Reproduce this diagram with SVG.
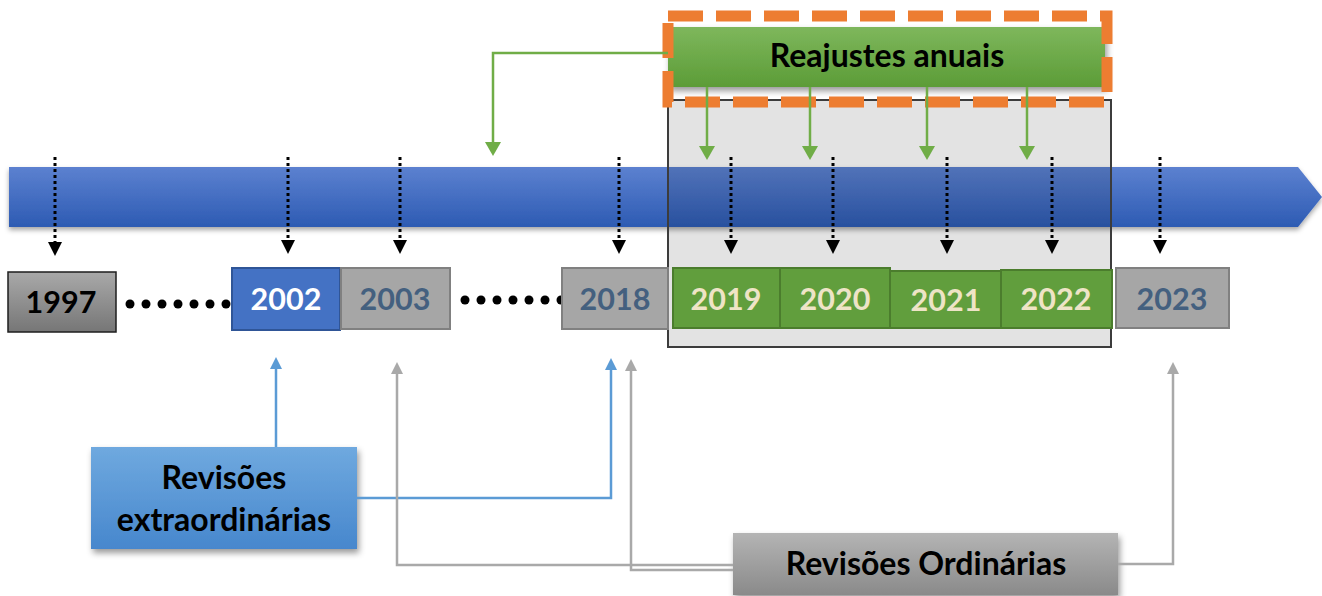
<svg xmlns="http://www.w3.org/2000/svg" width="1322" height="596" viewBox="0 0 1322 596">
  <defs>
    <style>
      text { font-family: Lato, "Liberation Sans", sans-serif; text-anchor: middle; }
      .year { font-size: 30.5px; font-weight: bold; }
      .label { font-size: 32px; font-weight: bold; fill: #000; }
      .dotted { stroke: #000; stroke-width: 3; stroke-dasharray: 3 3; fill: none; marker-end: url(#blackHead); }
      .greenLine { stroke: #70AD47; stroke-width: 2.5; fill: none; marker-end: url(#greenHead); }
      .blueLine { stroke: #5B9BD5; stroke-width: 2.5; fill: none; marker-end: url(#blueHead); }
      .grayLine { stroke: #A9A9A9; stroke-width: 2.5; fill: none; marker-end: url(#grayHead); }
      .grayYear { fill: #A6A6A6; stroke: #808080; stroke-width: 2; }
      .grayYearText { fill: #44607F; }
      .greenYear { fill: #619E3D; stroke: #4B7D2D; stroke-width: 2; }
      .greenYearText { fill: #EEE4C6; }
      .dots { fill: #000; }
    </style>
    <linearGradient id="barGrad" x1="0" y1="0" x2="0" y2="1">
      <stop offset="0" stop-color="#5C81D0"/>
      <stop offset="1" stop-color="#2D5BB3"/>
    </linearGradient>
    <linearGradient id="greenGrad" x1="0" y1="0" x2="0" y2="1">
      <stop offset="0" stop-color="#7EB75C"/>
      <stop offset="1" stop-color="#5C9C37"/>
    </linearGradient>
    <linearGradient id="extraGrad" x1="0" y1="0" x2="0" y2="1">
      <stop offset="0" stop-color="#6FA9DF"/>
      <stop offset="1" stop-color="#4787CD"/>
    </linearGradient>
    <linearGradient id="ordGrad" x1="0" y1="0" x2="0" y2="1">
      <stop offset="0" stop-color="#B4B4B4"/>
      <stop offset="1" stop-color="#8A8A8A"/>
    </linearGradient>
    <linearGradient id="darkGrayGrad" x1="0" y1="0" x2="0" y2="1">
      <stop offset="0" stop-color="#A9A9A9"/>
      <stop offset="1" stop-color="#767676"/>
    </linearGradient>
    <filter id="shadow" x="-10%" y="-20%" width="120%" height="150%">
      <feDropShadow dx="2" dy="4" stdDeviation="3" flood-color="#000" flood-opacity="0.4"/>
    </filter>
    <filter id="softShadow" x="-5%" y="-20%" width="110%" height="160%">
      <feDropShadow dx="0" dy="3" stdDeviation="2.5" flood-color="#000" flood-opacity="0.35"/>
    </filter>
    <marker id="blackHead" viewBox="0 0 14 14" refX="0" refY="7" markerWidth="14" markerHeight="14" markerUnits="userSpaceOnUse" orient="auto">
      <path d="M0,0 L14,7 L0,14 z" fill="#000"/>
    </marker>
    <marker id="greenHead" viewBox="0 0 14 16" refX="0" refY="8" markerWidth="14" markerHeight="16" markerUnits="userSpaceOnUse" orient="auto">
      <path d="M0,0 L14,8 L0,16 z" fill="#70AD47"/>
    </marker>
    <marker id="blueHead" viewBox="0 0 12 12" refX="0" refY="6" markerWidth="12" markerHeight="12" markerUnits="userSpaceOnUse" orient="auto">
      <path d="M0,0 L12,6 L0,12 z" fill="#5B9BD5"/>
    </marker>
    <marker id="grayHead" viewBox="0 0 12 12" refX="0" refY="6" markerWidth="12" markerHeight="12" markerUnits="userSpaceOnUse" orient="auto">
      <path d="M0,0 L12,6 L0,12 z" fill="#A9A9A9"/>
    </marker>
  </defs>

  <rect width="1322" height="596" fill="#fff"/>

  <!-- timeline bar -->
  <g id="timeline">
    <polygon points="9,167 1298,167 1322,197 1298,227 9,227" fill="url(#barGrad)" filter="url(#softShadow)"/>
  </g>

  <!-- highlighted period frame -->
  <g id="period-frame">
    <rect x="668" y="100" width="443" height="247" fill="#000" fill-opacity="0.11" stroke="#3C3C3C" stroke-width="2"/>
  </g>

  <!-- year boxes -->
  <g id="y1997">
    <rect x="8" y="272" width="108" height="60" fill="url(#darkGrayGrad)" stroke="#1E1E1E" stroke-width="1.5"/>
    <text class="year" x="61" y="313" fill="#000">1997</text>
  </g>
  <g id="dots-a" class="dots">
    <circle cx="130" cy="304" r="4.5"/><circle cx="146" cy="304" r="4.5"/><circle cx="162" cy="304" r="4.5"/>
    <circle cx="178" cy="304" r="4.5"/><circle cx="194" cy="304" r="4.5"/><circle cx="210" cy="304" r="4.5"/>
    <circle cx="226" cy="304" r="4.5"/>
  </g>
  <g id="y2002">
    <rect x="232" y="268" width="108" height="62" fill="#4472C4" stroke="#2F5597" stroke-width="2"/>
    <text class="year" x="286" y="310" fill="#fff">2002</text>
  </g>
  <g id="y2003">
    <rect class="grayYear" x="341" y="268" width="109" height="61"/>
    <text class="year grayYearText" x="395" y="310">2003</text>
  </g>
  <g id="dots-b" class="dots">
    <circle cx="465" cy="300" r="4.5"/><circle cx="481" cy="300" r="4.5"/><circle cx="497" cy="300" r="4.5"/>
    <circle cx="513" cy="300" r="4.5"/><circle cx="529" cy="300" r="4.5"/><circle cx="545" cy="300" r="4.5"/>
    <circle cx="561" cy="300" r="4.5"/>
  </g>
  <g id="y2018">
    <rect class="grayYear" x="562" y="268" width="106" height="61"/>
    <text class="year grayYearText" x="615" y="310">2018</text>
  </g>
  <g id="y2019">
    <rect class="greenYear" x="673" y="268" width="107" height="60"/>
    <text class="year greenYearText" x="726" y="310">2019</text>
  </g>
  <g id="y2020">
    <rect class="greenYear" x="780" y="268" width="110" height="60"/>
    <text class="year greenYearText" x="835" y="310">2020</text>
  </g>
  <g id="y2021">
    <rect class="greenYear" x="890" y="271" width="111" height="57"/>
    <text class="year greenYearText" x="946" y="311">2021</text>
  </g>
  <g id="y2022">
    <rect class="greenYear" x="1001" y="270" width="111" height="58"/>
    <text class="year greenYearText" x="1056" y="310">2022</text>
  </g>
  <g id="y2023">
    <rect class="grayYear" x="1116" y="268" width="113" height="60"/>
    <text class="year grayYearText" x="1172" y="310" font-weight="normal">2023</text>
  </g>

  <!-- annual adjustments label -->
  <g id="reajustes">
    <rect x="668" y="27" width="437" height="60" fill="url(#greenGrad)" filter="url(#shadow)"/>
    <text class="label" x="887" y="67">Reajustes anuais</text>
    <rect x="668" y="16" width="439" height="86" fill="none" stroke="#ED7D31" stroke-width="11" stroke-dasharray="35 13"/>
  </g>

  <!-- extraordinary reviews label -->
  <g id="extraordinarias">
    <rect x="91" y="447" width="266" height="102" fill="url(#extraGrad)" filter="url(#shadow)"/>
    <text class="label" x="224" y="489">Revisões</text>
    <text class="label" x="224" y="531">extraordinárias</text>
  </g>

  <!-- ordinary reviews label -->
  <g id="ordinarias">
    <rect x="733" y="533" width="385" height="62" fill="url(#ordGrad)" filter="url(#shadow)"/>
    <text class="label" x="926" y="575">Revisões Ordinárias</text>
  </g>

  <!-- connectors -->
  <g id="connectors">
    <!-- dotted year pointers -->
    <line class="dotted" x1="55" y1="157" x2="55" y2="242"/>
    <line class="dotted" x1="288" y1="157" x2="288" y2="240"/>
    <line class="dotted" x1="400" y1="157" x2="400" y2="240"/>
    <line class="dotted" x1="619" y1="157" x2="619" y2="240"/>
    <line class="dotted" x1="731" y1="157" x2="731" y2="240"/>
    <line class="dotted" x1="833" y1="157" x2="833" y2="240"/>
    <line class="dotted" x1="947" y1="157" x2="947" y2="240"/>
    <line class="dotted" x1="1052" y1="157" x2="1052" y2="240"/>
    <line class="dotted" x1="1160" y1="157" x2="1160" y2="240"/>

    <!-- annual adjustment arrows -->
    <line class="greenLine" x1="707" y1="87" x2="707" y2="146"/>
    <line class="greenLine" x1="810" y1="87" x2="810" y2="146"/>
    <line class="greenLine" x1="927" y1="87" x2="927" y2="146"/>
    <line class="greenLine" x1="1027" y1="87" x2="1027" y2="146"/>
    <polyline class="greenLine" points="668,53 493,53 493,142"/>

    <!-- extraordinary review arrows -->
    <line class="blueLine" x1="276" y1="447" x2="276" y2="369"/>
    <polyline class="blueLine" points="357,498 611,498 611,370"/>

    <!-- ordinary review arrows -->
    <polyline class="grayLine" points="733,565 397,565 397,374"/>
    <polyline class="grayLine" points="733,570 631,570 631,371"/>
    <polyline class="grayLine" points="1118,564 1173,564 1173,374"/>
  </g>
</svg>
